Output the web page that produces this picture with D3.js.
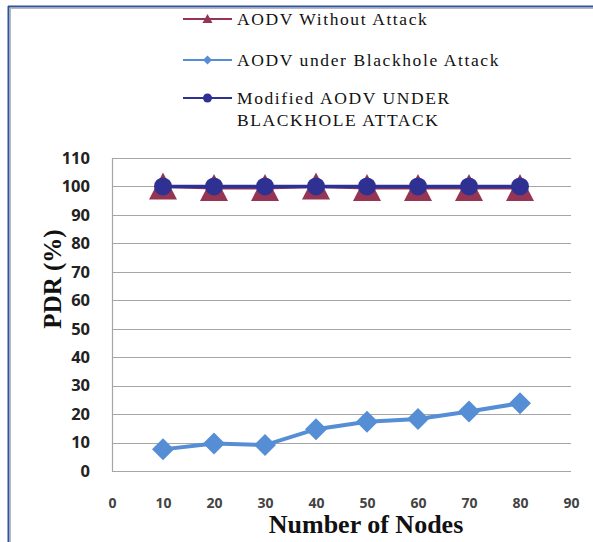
<!DOCTYPE html>
<html>
<head>
<meta charset="utf-8">
<script src="https://cdn.jsdelivr.net/npm/d3@7"></script>
<style>
  html, body { margin: 0; padding: 0; background: #fff; }
  svg { display: block; }
  .serif { font-family: "Liberation Serif", "Times New Roman", Tinos, serif; }
  .sans { font-family: "Open Sans", "DejaVu Sans", sans-serif; }
</style>
</head>
<body>
<svg id="chart" width="593" height="542"></svg>
<script>
// Number of nodes on the x axis
const nodes = [10, 20, 30, 40, 50, 60, 70, 80];
// Packet delivery ratio (%) per protocol variant
const pdrNoAttack = [100, 99.5, 99.5, 100, 99.5, 99.5, 99.5, 99.5];
const pdrBlackhole = [7.6, 9.7, 9.1, 14.7, 17.3, 18.3, 20.9, 23.8];
const pdrModified = [100, 100, 100, 100, 100, 100, 100, 100];
// Axis ticks
const xTicks = [0, 10, 20, 30, 40, 50, 60, 70, 80, 90];
const yTicks = [0, 10, 20, 30, 40, 50, 60, 70, 80, 90, 100, 110];
// Legend entries
const seriesNames = ["AODV Without Attack", "AODV under Blackhole Attack", "Modified AODV UNDER|BLACKHOLE ATTACK"];
const seriesColors = ["#953553", "#558ed5", "#2e3192"];

const svg = d3.select("#chart");
const W = 593, H = 542;

// Outer frame
svg.append("line").attr("x1", 8).attr("x2", W).attr("y1", 6.5).attr("y2", 6.5)
  .attr("stroke", "#2f5597").attr("stroke-width", 2);
svg.append("line").attr("x1", 8.5).attr("x2", 8.5).attr("y1", 6).attr("y2", H)
  .attr("stroke", "#2f5597").attr("stroke-width", 2);
svg.append("line").attr("x1", 10).attr("x2", W).attr("y1", 8.5).attr("y2", 8.5)
  .attr("stroke", "#b8b8b8").attr("stroke-width", 1);
svg.append("line").attr("x1", 10.5).attr("x2", 10.5).attr("y1", 8).attr("y2", H)
  .attr("stroke", "#b8b8b8").attr("stroke-width", 1);

const x = d3.scaleLinear().domain([0, 90]).range([112, 571]);
const y = d3.scaleLinear().domain([0, 110]).range([471, 158]);

// Gridlines
svg.append("g")
  .selectAll("line").data(yTicks).join("line")
  .attr("x1", x(0)).attr("x2", x(90))
  .attr("y1", d => Math.round(y(d)) + 0.5).attr("y2", d => Math.round(y(d)) + 0.5)
  .attr("stroke", "#a6a6a6").attr("stroke-width", 1.2);
svg.append("line")
  .attr("x1", x(0) + 0.5).attr("x2", x(0) + 0.5).attr("y1", y(110)).attr("y2", y(0))
  .attr("stroke", "#a6a6a6").attr("stroke-width", 1.2);

// Y axis tick labels
const yAxis = d3.axisLeft(y).tickValues(yTicks).tickSize(0).tickPadding(0);
const gy = svg.append("g").attr("transform", "translate(90,0)").call(yAxis);
gy.select(".domain").remove();
gy.selectAll("text")
  .attr("class", "sans").attr("font-family", null)
  .attr("font-weight", "bold").attr("font-size", 16.5).attr("fill", "#222");

// X axis tick labels
const xAxis = d3.axisBottom(x).tickValues(xTicks).tickSize(0).tickPadding(0);
const gx = svg.append("g").attr("transform", "translate(0,498)").call(xAxis);
gx.select(".domain").remove();
gx.selectAll("text")
  .attr("class", "sans").attr("font-family", null)
  .attr("font-weight", "bold").attr("font-size", 14).attr("fill", "#444");

// Axis titles
svg.append("text")
  .attr("class", "serif")
  .attr("transform", "translate(61,279) rotate(-90)")
  .attr("text-anchor", "middle")
  .attr("font-weight", "bold").attr("font-size", 25).attr("fill", "#111")
  .text("PDR (%)");
svg.append("text")
  .attr("class", "serif")
  .attr("x", 366).attr("y", 533)
  .attr("text-anchor", "middle")
  .attr("font-weight", "bold").attr("font-size", 26).attr("fill", "#111")
  .text("Number of Nodes");

const line = d3.line().x(d => x(d[0])).y(d => y(d[1]));
const zipped = vals => nodes.map((n, i) => [n, vals[i]]);

// Marker shapes
const triangle = (w, up, down) => `M0,${-up}L${w},${down}L${-w},${down}Z`;
const diamond = r => `M0,${-r}L${r},0L0,${r}L${-r},0Z`;

// AODV without attack: triangles
svg.append("path").datum(zipped(pdrNoAttack)).attr("d", line)
  .attr("fill", "none").attr("stroke", seriesColors[0]).attr("stroke-width", 3);
svg.append("g").selectAll("path").data(zipped(pdrNoAttack)).join("path")
  .attr("d", triangle(14, 14, 13))
  .attr("transform", d => `translate(${x(d[0])},${y(d[1])})`)
  .attr("fill", seriesColors[0]);

// Modified AODV: circles on top
svg.append("path").datum(zipped(pdrModified)).attr("d", line)
  .attr("fill", "none").attr("stroke", seriesColors[2]).attr("stroke-width", 3.5);
svg.append("g").selectAll("circle").data(zipped(pdrModified)).join("circle")
  .attr("cx", d => x(d[0])).attr("cy", d => y(d[1])).attr("r", 9)
  .attr("fill", seriesColors[2]);

// AODV under blackhole: diamonds
svg.append("path").datum(zipped(pdrBlackhole)).attr("d", line)
  .attr("fill", "none").attr("stroke", seriesColors[1]).attr("stroke-width", 4);
svg.append("g").selectAll("path").data(zipped(pdrBlackhole)).join("path")
  .attr("d", diamond(11))
  .attr("transform", d => `translate(${x(d[0])},${y(d[1])})`)
  .attr("fill", seriesColors[1]);

// Legend
const legendY = [19, 60, 98];
const legendMarkers = [triangle(5, 5, 4), diamond(4.5), null];
const lg = svg.append("g");
seriesNames.forEach((name, i) => {
  const cy = legendY[i];
  lg.append("line").attr("x1", 183).attr("x2", 232).attr("y1", cy).attr("y2", cy)
    .attr("stroke", seriesColors[i]).attr("stroke-width", 2.2);
  if (legendMarkers[i]) {
    lg.append("path").attr("d", legendMarkers[i])
      .attr("transform", `translate(207.5,${cy})`).attr("fill", seriesColors[i]);
  } else {
    lg.append("circle").attr("cx", 207.5).attr("cy", cy).attr("r", 4.5)
      .attr("fill", seriesColors[i]);
  }
  const lines = name.split("|");
  const t = lg.append("text")
    .attr("class", "serif")
    .attr("x", 237).attr("y", cy + 6)
    .attr("font-size", 17.5).attr("fill", "#111")
    .attr("letter-spacing", 1.6);
  lines.forEach((s, j) => {
    t.append("tspan").attr("x", 237).attr("dy", j === 0 ? 0 : 22).text(s);
  });
});
</script>
</body>
</html>
